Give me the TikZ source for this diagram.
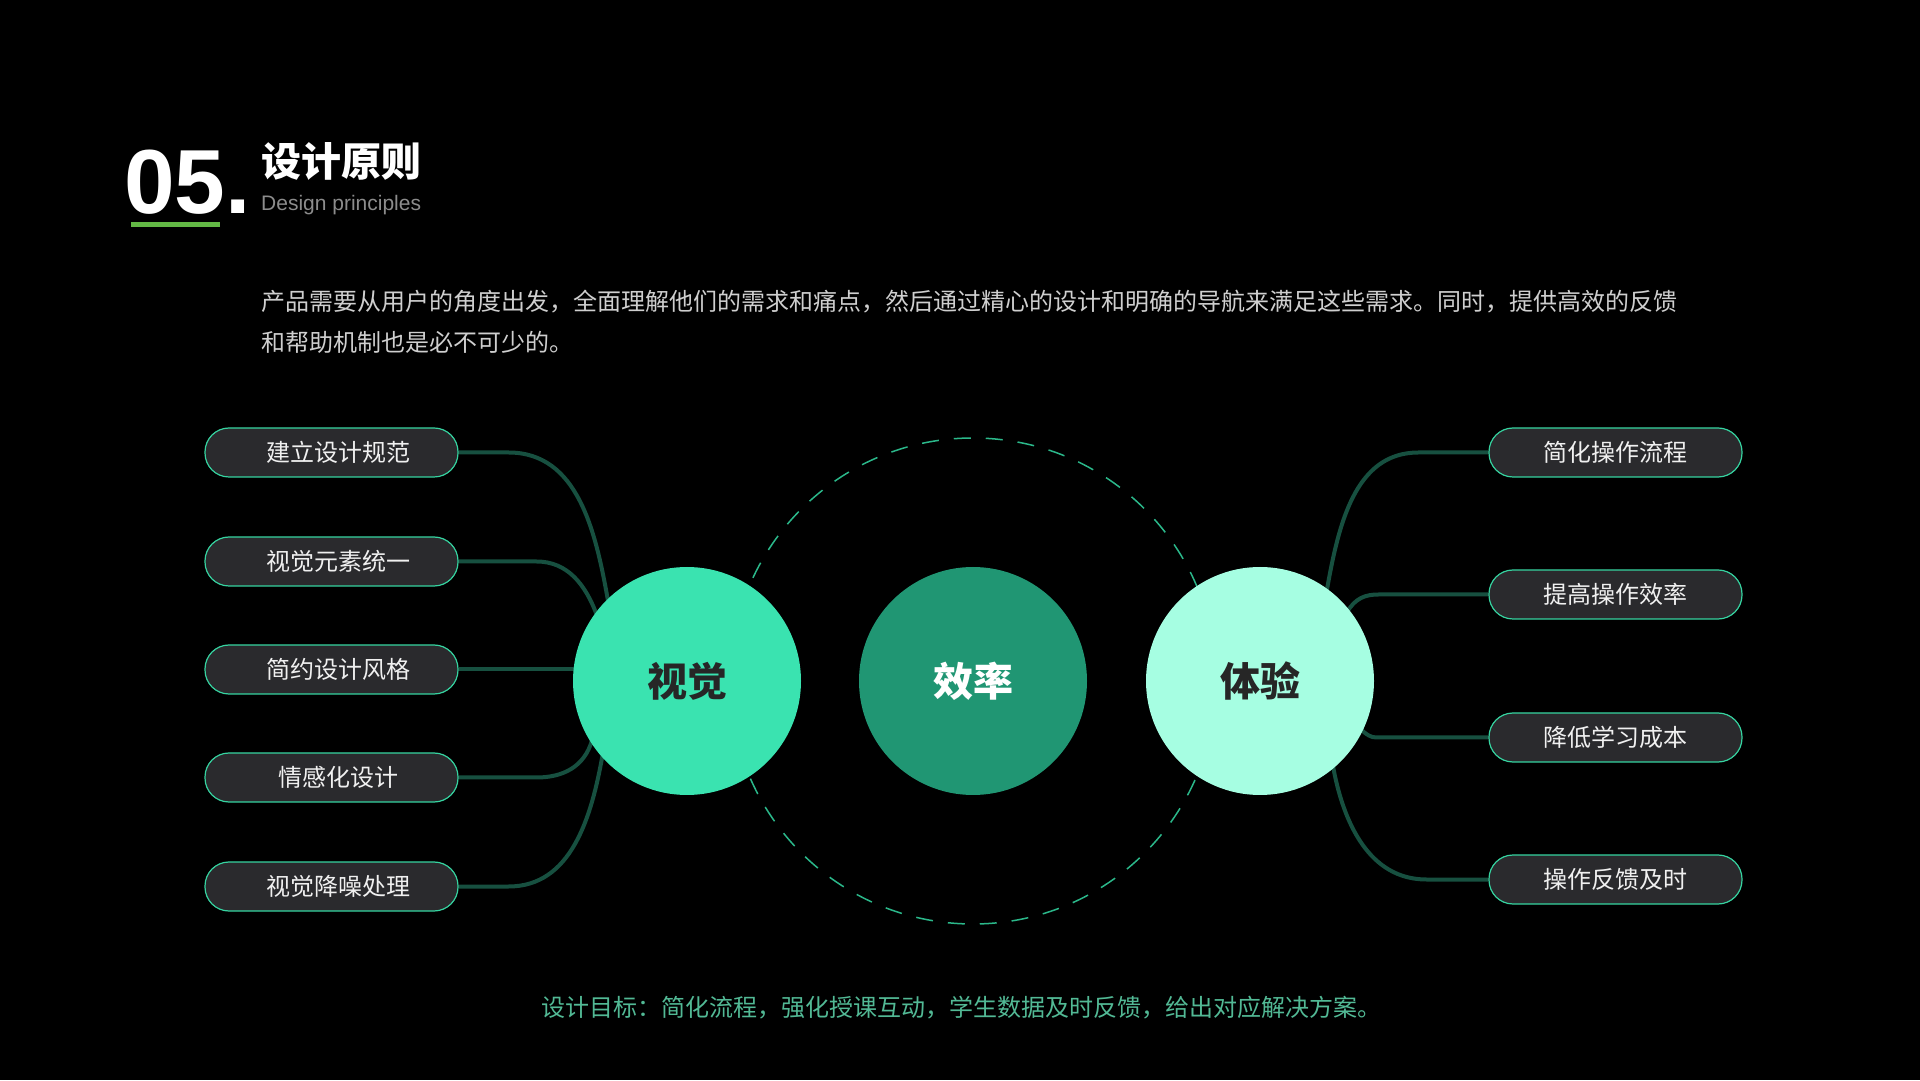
\documentclass[tikz,border=0pt]{standalone}
\usepackage{fontspec}
\setmainfont{Noto Sans CJK SC}
\newfontfamily\numfont{Liberation Sans}
\usepackage{xcolor}
\usetikzlibrary{backgrounds}
\definecolor{bgblack}{HTML}{000000}
\definecolor{mintbright}{HTML}{3AE3B0}
\definecolor{mintdeep}{HTML}{209673}
\definecolor{mintpale}{HTML}{A6FEE2}
\definecolor{linkgreen}{HTML}{175040}
\definecolor{pillfill}{HTML}{2A2A2D}
\definecolor{pilledge}{HTML}{36D3A0}
\definecolor{ringgreen}{HTML}{2BB88A}
\definecolor{goalteal}{HTML}{52B995}
\definecolor{bodygray}{HTML}{CFCFCF}
\definecolor{subgray}{HTML}{8C8C8C}
\definecolor{bargreen}{HTML}{63B845}
\definecolor{hubtext}{HTML}{262626}

\begin{document}
\begin{tikzpicture}[x=1pt, y=1pt,
  pill/.style={draw=pilledge, line width=1.2pt, fill=pillfill, rounded corners=24pt,
    minimum width=253pt, minimum height=49pt, inner sep=0pt,
    text=white!94!black, font=\fontsize{24}{28}\selectfont},
  leftpill/.style={pill, execute at begin node=\hspace*{14pt}},
  hub/.style={circle, minimum size=228pt, inner sep=0pt,
    font=\fontsize{40}{48}\selectfont\bfseries},
  link/.style={draw=linkgreen, line width=4pt, shorten >=-4pt}]
  % frame
  \useasboundingbox (0,0) rectangle (1920,1080);
  \begin{pgfonlayer}{background}
    \fill[bgblack] (0,0) rectangle (1920,1080);
  \end{pgfonlayer}
  % heading
  \node[anchor=base west, inner sep=0pt, text=white,
    font=\fontsize{91}{91}\numfont\bfseries] (num) at (124,866) {05.};
  \fill[bargreen] (131,853) rectangle (220,858);
  \node[anchor=west, inner sep=0pt, text=white,
    font=\fontsize{40}{48}\selectfont\bfseries] (title) at (261,919) {设计原则};
  \node[anchor=base west, inner sep=0pt, text=subgray,
    font=\fontsize{21}{24}\numfont] (subtitle) at (261,869) {Design principles};
  % intro text
  \node[anchor=west, inner sep=0pt, align=left, text=bodygray,
    font=\fontsize{24}{41}\selectfont] (intro) at (261,758)
    {产品需要从用户的角度出发，全面理解他们的需求和痛点，然后通过精心的设计和明确的导航来满足这些需求。同时，提供高效的反馈\\
     和帮助机制也是必不可少的。};
  % dashed ring behind the hubs
  \node[circle, draw=ringgreen, line width=1.5pt, dash pattern=on 17pt off 15pt,
    minimum size=486pt, inner sep=0pt] (ring) at (973,399) {};
  % hubs
  \node[hub, fill=mintbright, text=hubtext] (vis) at (687,399) {视觉};
  \node[hub, fill=mintdeep, text=white] (eff) at (973,399) {效率};
  \node[hub, fill=mintpale, text=hubtext] (exp) at (1260,399) {体验};
  % left pills
  \node[leftpill] (l1) at (331.5,627.5) {建立设计规范};
  \node[leftpill] (l2) at (331.5,518.5) {视觉元素统一};
  \node[leftpill] (l3) at (331.5,410.5) {简约设计风格};
  \node[leftpill] (l4) at (331.5,302.5) {情感化设计};
  \node[leftpill] (l5) at (331.5,193.5) {视觉降噪处理};
  % right pills
  \node[pill] (r1) at (1615.5,627.5) {简化操作流程};
  \node[pill] (r2) at (1615.5,485.5) {提高操作效率};
  \node[pill] (r3) at (1615.5,342.5) {降低学习成本};
  \node[pill] (r4) at (1615.5,200.5) {操作反馈及时};
  % connectors, tucked under the hubs
  \begin{pgfonlayer}{background}
    \draw[link] (l1.east) -- ++(50,0) to[out=0, in=100] (vis.134);
    \draw[link] (l2.east) -- ++(78,0) to[out=0, in=110] (vis.143);
    \draw[link] (l3.east) -- (l3.east -| vis.center);
    \draw[link] (l4.east) -- ++(78,0) to[out=0, in=255] (vis.213);
    \draw[link] (l5.east) -- ++(50,0) to[out=0, in=260] (vis.222);
    \draw[link] (r1.west) -- ++(-70,0) to[out=180, in=80] (exp.54);
    \draw[link] (r2.west) -- ++(-110,0) to[out=180, in=60] (exp.39);
    \draw[link] (r3.west) -- ++(-112,0) to[out=180, in=320] (exp.334);
    \draw[link] (r4.west) -- ++(-62,0) to[out=180, in=280] (exp.310);
  \end{pgfonlayer}
  % goal line
  \node[anchor=west, inner sep=0pt, text=goalteal,
    font=\fontsize{24}{28}\selectfont] (goal) at (541,72)
    {设计目标：简化流程，强化授课互动，学生数据及时反馈，给出对应解决方案。};
\end{tikzpicture}
\end{document}
